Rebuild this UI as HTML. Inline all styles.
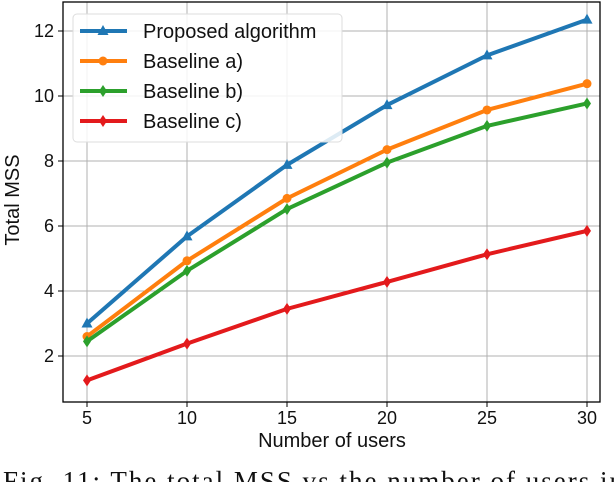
<!DOCTYPE html>
<html><head><meta charset="utf-8"><style>
html,body{margin:0;padding:0;background:#fff;width:614px;height:482px;overflow:hidden}
svg text{font-family:"Liberation Sans",sans-serif;fill:#111}
</style></head><body>
<svg id="chart" width="614" height="482" xmlns="http://www.w3.org/2000/svg">
<g id="grid"></g>
<g id="axes"></g>
<g id="series"></g>
<g id="legend"></g>
<text x="332" y="447" text-anchor="middle" font-size="20">Number of users</text>
<text x="0" y="0" transform="translate(19,200) rotate(-90)" text-anchor="middle" font-size="20">Total MSS</text>
<text x="3" y="490" font-size="27" textLength="620" lengthAdjust="spacing" style="font-family:'Liberation Serif',serif">Fig. 11: The total MSS vs the number of users in</text>
</svg>
<script>
const xCats=[5,10,15,20,25,30];
const xTicks=[5,10,15,20,25,30];
const yTicks=[2,4,6,8,10,12];
const seriesNames=["Proposed algorithm","Baseline a)","Baseline b)","Baseline c)"];
const proposed=[3.0,5.68,7.88,9.72,11.25,12.35];
const baseA=[2.6,4.93,6.85,8.35,9.57,10.38];
const baseB=[2.45,4.62,6.52,7.95,9.08,9.77];
const baseC=[1.25,2.38,3.45,4.28,5.13,5.85];
const colors=["#1f77b4","#ff7f0e","#2ca02c","#e31a1c"];
const markers=["tri","circle","diamond","diamond"];
const L=63,R=600,T=2,B=402;
const X=v=>87+(v-5)*20;
const Y=v=>421-v*32.5;
const NS="http://www.w3.org/2000/svg";
function mk(tag,attrs,parent){const e=document.createElementNS(NS,tag);for(const k in attrs)e.setAttribute(k,attrs[k]);parent.appendChild(e);return e;}
const grid=document.getElementById('grid'),axes=document.getElementById('axes'),ser=document.getElementById('series'),leg=document.getElementById('legend');
xTicks.forEach(t=>{
 const g=mk('line',{x1:X(t),x2:X(t),y1:T,y2:B,stroke:'#b0b0b0','stroke-width':1},grid);
 
 
 const tk=mk('line',{x1:X(t),x2:X(t),y1:B,y2:B+5,stroke:'#000'},axes);
 
 
 const tx=mk('text',{x:X(t),y:B+22,'text-anchor':'middle','font-size':18},axes);tx.textContent=t;
 
 
});
yTicks.forEach(t=>{
 const g=mk('line',{x1:L,x2:R,y1:Y(t),y2:Y(t),stroke:'#b0b0b0','stroke-width':1},grid);
 
 
 const tk=mk('line',{x1:L-5,x2:L,y1:Y(t),y2:Y(t),stroke:'#000'},axes);
 
 
 const tx=mk('text',{x:L-9,y:Y(t)+6,'text-anchor':'end','font-size':18},axes);tx.textContent=t;
 
 
});
const fr=mk('rect',{x:L,y:T,width:R-L,height:B-T,fill:'none',stroke:'#000','stroke-width':1.3},axes);


function marker(type,x,y,c,parent){
 let e;
 if(type==='circle')e=mk('circle',{cx:x,cy:y,r:4.5,fill:c},parent);
 else if(type==='tri')e=mk('polygon',{points:`${x},${y-6} ${x-5.5},${y+4} ${x+5.5},${y+4}`,fill:c},parent);
 else e=mk('polygon',{points:`${x},${y-6} ${x-4},${y} ${x},${y+6} ${x+4},${y}`,fill:c},parent);
 return e;
}
[proposed,baseA,baseB,baseC].forEach((d,i)=>{
 const p=mk('polyline',{points:d.map((v,j)=>X(xCats[j])+','+Y(v)).join(' '),fill:'none',stroke:colors[i],'stroke-width':4,'stroke-linejoin':'round'},ser);
 
 
 d.forEach((v,j)=>{const m=marker(markers[i],X(xCats[j]),Y(v),colors[i],ser);
  
  });
});
const lb=mk('rect',{x:73,y:14,width:269,height:128,rx:4,fill:'#fff','fill-opacity':0.85,stroke:'#ddd'},leg);


seriesNames.forEach((n,i)=>{
 const y=31+i*30;
 const l=mk('line',{x1:80,x2:127,y1:y,y2:y,stroke:colors[i],'stroke-width':4},leg);
 
 
 marker(markers[i],103,y,colors[i],leg);
 const t=mk('text',{x:143,y:y+7,'font-size':20},leg);t.textContent=n;
 
 
});
</script>
</body></html>
